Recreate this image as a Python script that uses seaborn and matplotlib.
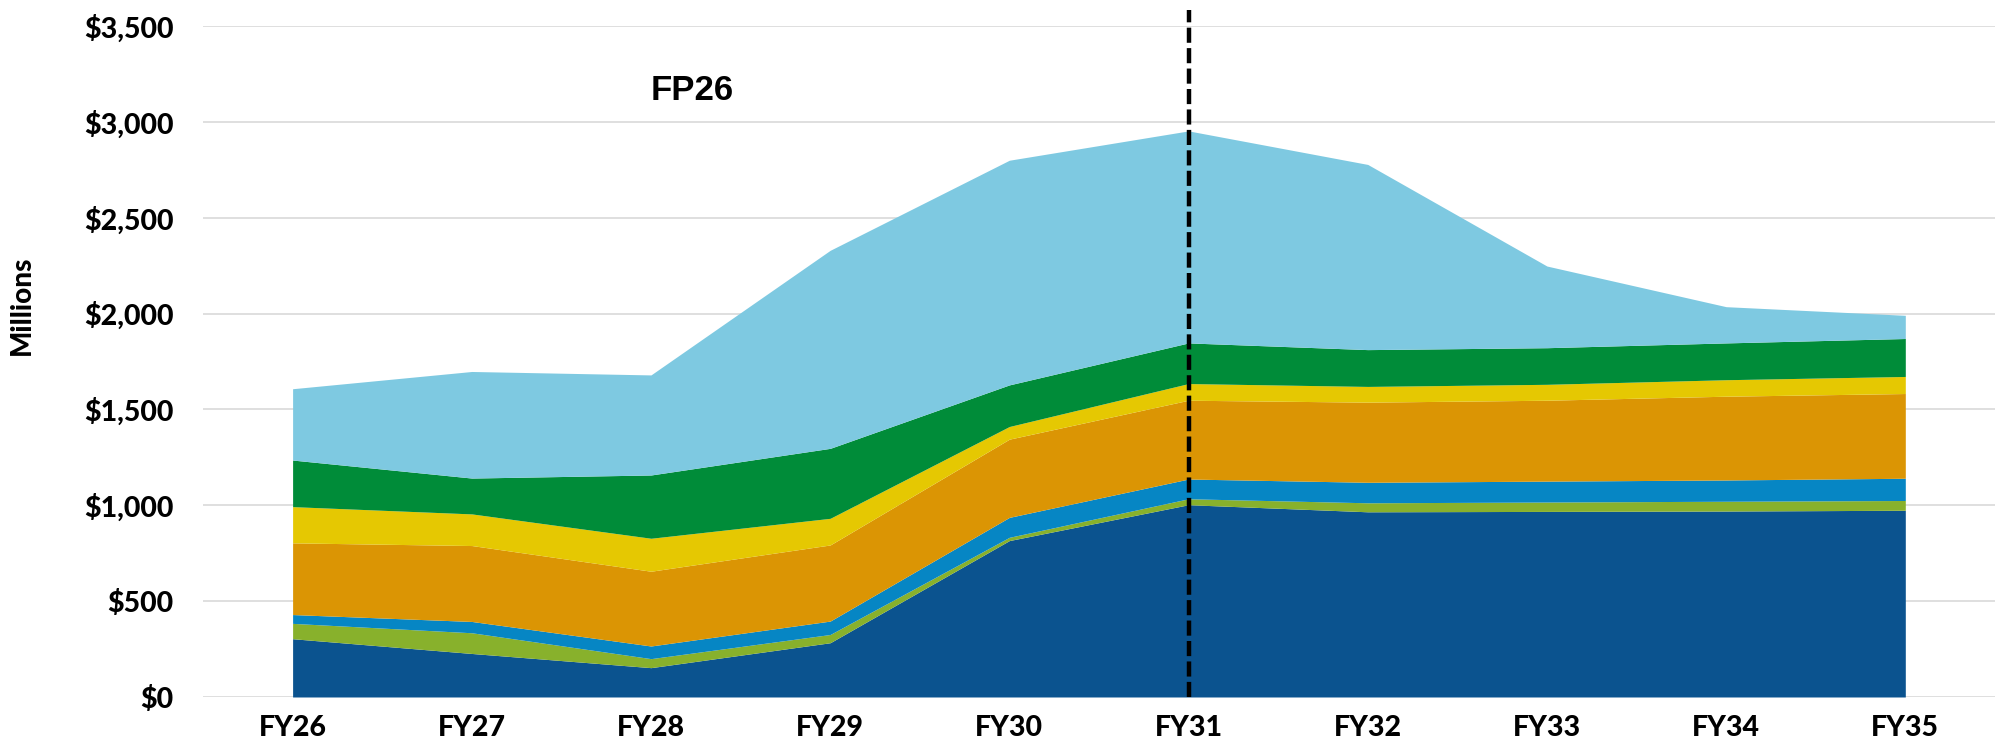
import matplotlib
matplotlib.use("Agg")
import matplotlib.pyplot as plt
import seaborn as sns
import numpy as np
import pandas as pd

years = ["FY26", "FY27", "FY28", "FY29", "FY30", "FY31", "FY32", "FY33", "FY34", "FY35"]

series_1 = [304, 227, 153, 283, 816, 1003, 966, 968, 970, 974]   # dark blue
series_2 = [80, 108, 47, 43, 17, 31, 47, 49, 51, 51]             # lime
series_3 = [46, 59, 66, 70, 104, 103, 107, 109, 111, 116]        # blue
series_4 = [374, 396, 390, 397, 408, 411, 418, 422, 437, 442]    # orange
series_5 = [189, 165, 172, 139, 66, 87, 82, 83, 86, 89]          # yellow
series_6 = [243, 187, 330, 365, 217, 212, 192, 191, 192, 198]    # green
series_7 = [372, 556, 522, 1033, 1172, 1106, 966, 426, 189, 121] # light blue

colors = ["#0B538F", "#88B12C", "#0686C4", "#DB9504", "#E5C802", "#008C39", "#7EC9E1"]

yticks = [0, 500, 1000, 1500, 2000, 2500, 3000, 3500]
ytick_labels = ["$0", "$500", "$1,000", "$1,500", "$2,000", "$2,500", "$3,000", "$3,500"]

df = pd.DataFrame({
    "year": years,
    "s1": series_1, "s2": series_2, "s3": series_3, "s4": series_4,
    "s5": series_5, "s6": series_6, "s7": series_7,
})

sns.set_theme(style="white")
plt.rcParams["font.family"] = ["Lato", "DejaVu Sans"]

fig = plt.figure(figsize=(20.12, 7.48), dpi=100)
ax = fig.add_axes([0.1009, 0.0682, 0.8906, 0.8970])

x = np.arange(len(years))
ax.stackplot(x, [df[c] for c in ["s1", "s2", "s3", "s4", "s5", "s6", "s7"]],
             colors=colors, linewidth=0, zorder=2)

ax.set_xlim(-0.5, len(years) - 0.5)
ax.set_ylim(0, 3500)
ax.set_yticks(yticks)
ax.set_yticklabels(ytick_labels)
ax.set_xticks(x)
ax.set_xticklabels(years)
ax.yaxis.grid(True, color="#D9D9D9", linewidth=1.2, zorder=0)
ax.set_axisbelow(True)
for s in ax.spines.values():
    s.set_visible(False)

ax.tick_params(axis="y", length=0, pad=21, labelsize=20.5)
ax.tick_params(axis="x", length=0, pad=13, labelsize=20.5)
for lab in ax.get_yticklabels() + ax.get_xticklabels():
    lab.set_fontweight("black")
    lab.set_color("black")

fig.text(22 / 2012, 1 - 305 / 748, "Millions", rotation=90, ha="center", va="center",
         fontsize=20, fontweight="black", color="black")

ax.axvline(5, ymin=0, ymax=1.024, color="black", linewidth=3.2,
           dashes=(3.4, 1.2), clip_on=False, zorder=5)

ax.text(2.23, 3166, "FP26", ha="center", va="center", fontsize=25,
        fontweight="bold", family=["Liberation Sans", "DejaVu Sans"], color="black")

fig.savefig("out.png", dpi=100)
